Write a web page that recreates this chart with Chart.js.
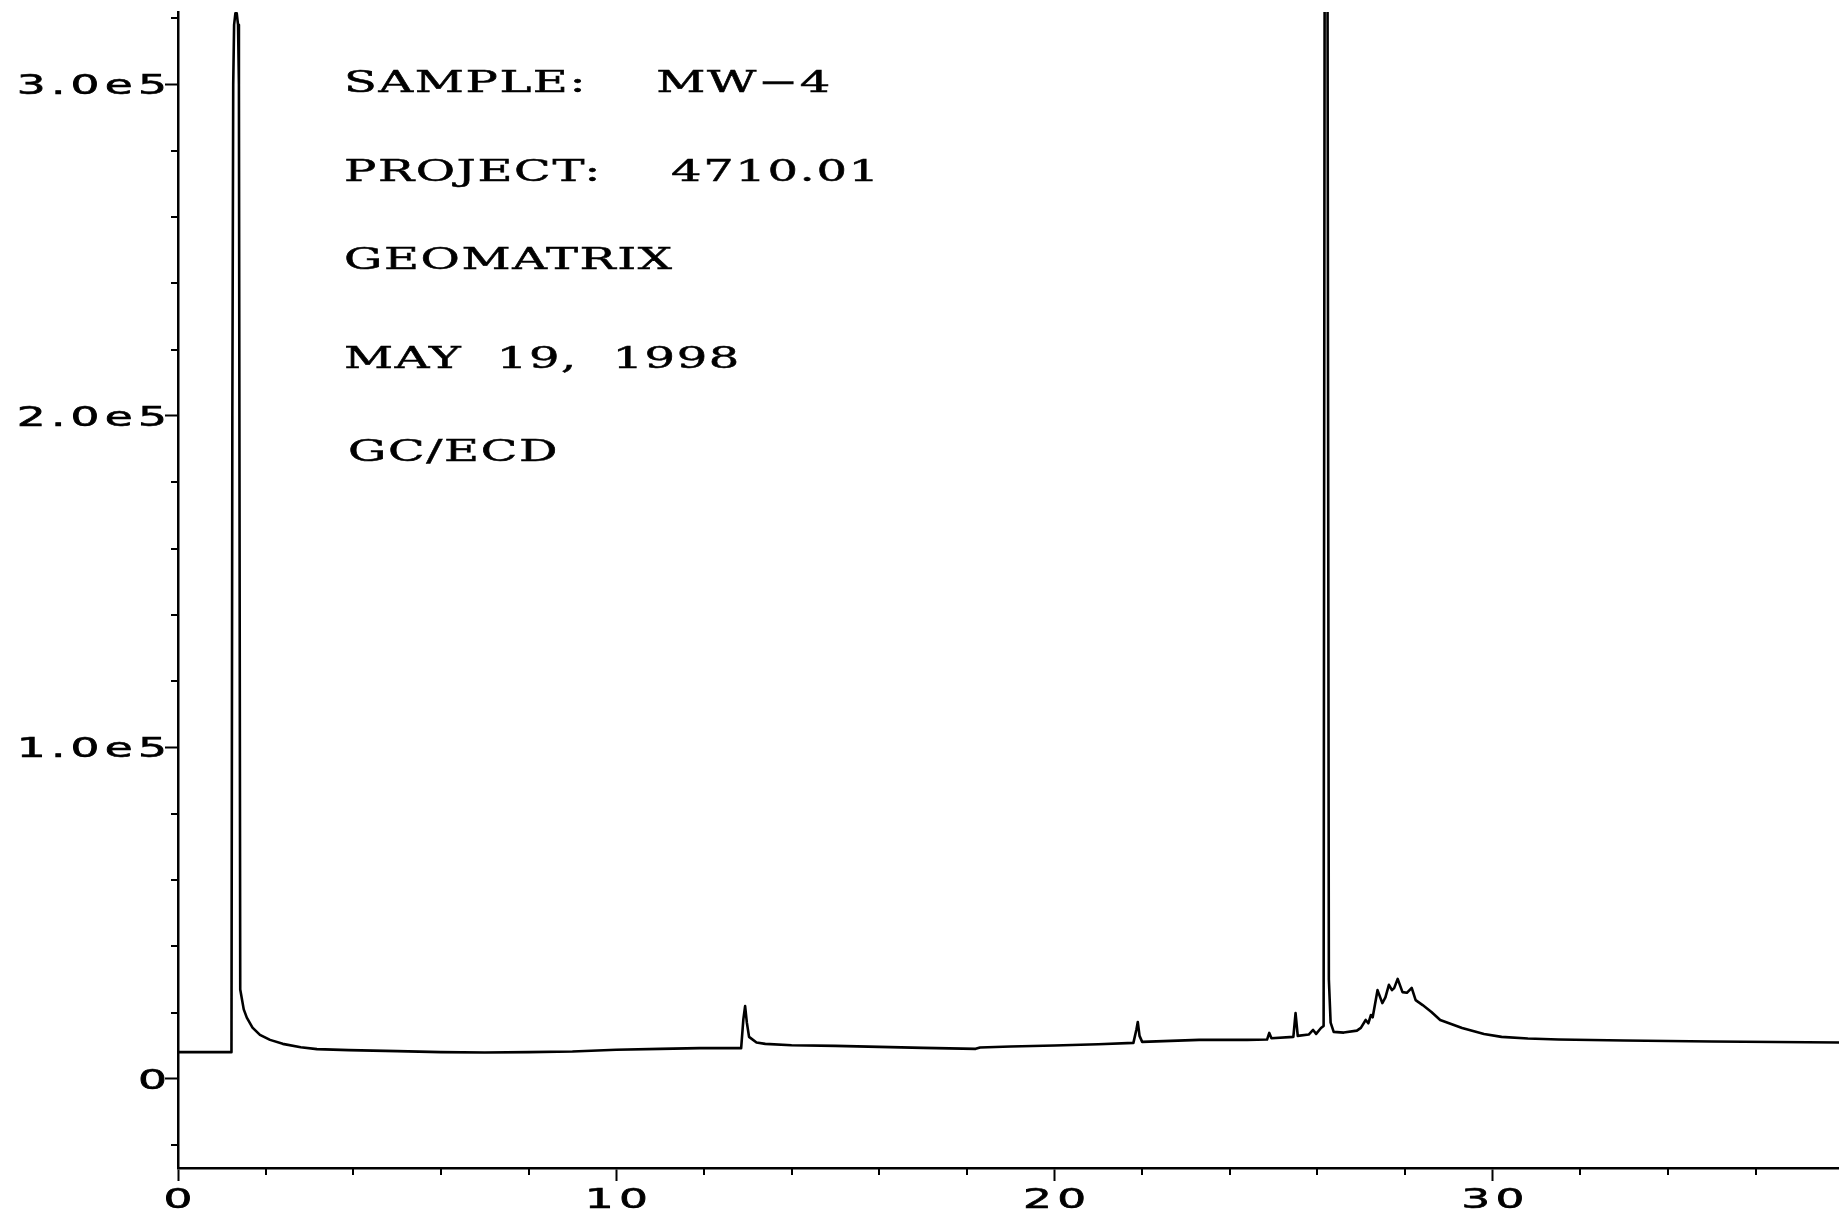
<!DOCTYPE html>
<html>
<head>
<meta charset="utf-8">
<title>GC/ECD chromatogram MW-4</title>
<script src="https://cdn.jsdelivr.net/npm/chart.js@4.4.1/dist/chart.umd.min.js"></script>
<style>
  html, body { margin: 0; padding: 0; background: #fff; }
  #chromatogram { display: block; }
</style>
</head>
<body>
<canvas id="chromatogram" width="1839" height="1214"></canvas>
<script>
// Trace: retention time (min) and detector response
const retentionTimes = [
  0.00, 1.22, 1.24, 1.26, 1.28, 1.31, 1.34, 1.37, 1.39, 1.42,
  1.50, 1.57, 1.70, 1.87, 2.10, 2.39, 2.80, 3.17, 3.90, 5.00,
  6.00, 7.00, 8.00, 9.00, 10.00, 11.00, 11.90, 12.85, 12.90, 12.94,
  12.98, 13.03, 13.20, 13.40, 14.00, 15.00, 16.00, 17.00, 18.20, 18.30,
  19.00, 20.00, 21.00, 21.80, 21.87, 21.90, 21.94, 22.00, 23.30, 24.40,
  24.85, 24.90, 24.95, 25.45, 25.50, 25.55, 25.80, 25.90, 25.97, 26.08,
  26.14, 26.17, 26.22, 26.26, 26.30, 26.37, 26.60, 26.90, 26.99, 27.10,
  27.16, 27.22, 27.26, 27.37, 27.48, 27.55, 27.63, 27.70, 27.75, 27.83,
  27.94, 28.04, 28.15, 28.24, 28.40, 28.60, 28.80, 29.30, 29.80, 30.20,
  30.80, 31.50, 33.00, 35.00, 37.90
];
const detectorResponse = [
  8100, 8100, 200000, 300000, 318000, 321500, 321500, 318000, 300000, 27000,
  21000, 18500, 15500, 13300, 11800, 10600, 9600, 9000, 8700, 8400,
  8100, 8000, 8100, 8300, 8800, 9100, 9300, 9300, 18000, 22000,
  17000, 12700, 11000, 10600, 10200, 10000, 9700, 9400, 9100, 9500,
  9800, 10100, 10500, 10900, 15000, 17200, 13000, 11200, 11800, 11800,
  11900, 13900, 12300, 12700, 19900, 13000, 13400, 14800, 13600, 15400,
  16000, 420000, 420000, 30000, 17000, 14200, 14000, 14600, 15400, 17800,
  16800, 19300, 18600, 26800, 22900, 24600, 28400, 26800, 27400, 30200,
  26200, 26000, 27500, 23800, 22300, 20200, 17800, 15400, 13600, 12700,
  12200, 11900, 11600, 11300, 11000
];

const xTickValues = [0, 2, 4, 6, 8, 10, 12, 14, 16, 18, 20, 22, 24, 26, 28, 30, 32, 34, 36];
const xLabelValues = [0, 10, 20, 30];
const xLabelTexts = ['0', '10', '20', '30'];

const yTickValues = [
  -20000, 0, 20000, 40000, 60000, 80000, 100000, 120000, 140000, 160000, 180000,
  200000, 220000, 240000, 260000, 280000, 300000, 320000
];
const yLabelValues = [0, 100000, 200000, 300000];
const yLabelTexts = ['0', '1.0e5', '2.0e5', '3.0e5'];

const headerLines = ['SAMPLE:  MW\u22124', 'PROJECT:  4710.01', 'GEOMATRIX', 'MAY 19, 1998', 'GC/ECD'];

// layout of the plotter page
const AXIS_LEFT = 178;
const AXIS_BOTTOM_SPACE = 46;
const MAJOR_TICK = 13;
const MINOR_TICK = 7;
const headerX = [344, 344, 344, 344, 348];
const headerBaseline = [92, 181, 269, 368, 461];

const tickFont = { font: '26px "DejaVu Sans"', stretch: 1.75, spacing: 3, wordSpacing: 0, weight: 0.6 };
const headerFont = { font: '30px "DejaVu Serif"', stretch: 1.6, spacing: 1, wordSpacing: 11, weight: 0.5 };

/**
 * Draws plotter-style text: wide glyphs via a horizontal stretch.
 */
function drawPlotterText(ctx, text, x, y, style, align) {
  ctx.save();
  ctx.font = style.font;
  ctx.fillStyle = '#000';
  ctx.strokeStyle = '#000';
  ctx.lineWidth = style.weight;
  ctx.textAlign = 'left';
  ctx.textBaseline = 'alphabetic';
  ctx.letterSpacing = style.spacing + 'px';
  ctx.wordSpacing = style.wordSpacing + 'px';
  const width = ctx.measureText(text).width - style.spacing;
  let left = x;
  if (align === 'right') left = x - width * style.stretch;
  if (align === 'center') left = x - (width * style.stretch) / 2;
  ctx.translate(left, y);
  ctx.scale(style.stretch, 1);
  ctx.fillText(text, 0, 0);
  ctx.strokeText(text, 0, 0);
  ctx.restore();
}

const plotterDecorations = {
  id: 'plotterDecorations',
  afterDraw(chart) {
    const { ctx, chartArea, scales } = chart;

    // minor tick marks (major ones come from the grid options)
    ctx.save();
    ctx.strokeStyle = '#000';
    ctx.lineWidth = 2;
    ctx.beginPath();
    xTickValues.forEach((v) => {
      if (xLabelValues.includes(v)) return;
      const px = Math.round(scales.x.getPixelForValue(v));
      ctx.moveTo(px, chartArea.bottom);
      ctx.lineTo(px, chartArea.bottom + MINOR_TICK);
    });
    yTickValues.forEach((v) => {
      if (yLabelValues.includes(v)) return;
      const py = Math.round(scales.y.getPixelForValue(v));
      ctx.moveTo(chartArea.left, py);
      ctx.lineTo(chartArea.left - MINOR_TICK, py);
    });
    ctx.stroke();
    ctx.restore();

    // tick labels
    xLabelValues.forEach((v, i) => {
      const px = scales.x.getPixelForValue(v);
      drawPlotterText(ctx, xLabelTexts[i], px, chartArea.bottom + 40, tickFont, 'center');
    });
    yLabelValues.forEach((v, i) => {
      const py = scales.y.getPixelForValue(v);
      drawPlotterText(ctx, yLabelTexts[i], chartArea.left - 11, py + 10, tickFont, 'right');
    });

    // sample header
    headerLines.forEach((line, i) => {
      drawPlotterText(ctx, line, headerX[i], headerBaseline[i], headerFont, 'left');
    });
  },
};

function initChromatogram() {
  const points = retentionTimes.map((t, i) => ({ x: t, y: detectorResponse[i] }));

  new Chart(document.getElementById('chromatogram'), {
    type: 'scatter',
    data: {
      datasets: [
        {
          label: 'MW-4',
          data: points,
          showLine: true,
          borderColor: '#000',
          borderWidth: 2.6,
          borderJoinStyle: 'round',
          borderCapStyle: 'round',
          pointRadius: 0,
          tension: 0,
          fill: false,
        },
      ],
    },
    options: {
      responsive: false,
      animation: false,
      devicePixelRatio: 1,
      layout: { padding: { top: 12, right: 0, bottom: 0, left: 0 } },
      plugins: { legend: { display: false }, tooltip: { enabled: false } },
      scales: {
        x: {
          type: 'linear',
          min: 0,
          max: 37.9,
          afterBuildTicks: (scale) => { scale.ticks = xTickValues.map((v) => ({ value: v })); },
          afterFit: (scale) => { scale.height = AXIS_BOTTOM_SPACE; },
          ticks: { display: false },
          grid: {
            drawOnChartArea: false,
            tickLength: MAJOR_TICK,
            tickWidth: 2,
            tickColor: (c) => (xLabelValues.includes(c.tick.value) ? '#000' : 'rgba(0,0,0,0)'),
          },
          border: { color: '#000', width: 2.5 },
        },
        y: {
          type: 'linear',
          min: -26850,
          max: 321870,
          afterBuildTicks: (scale) => { scale.ticks = yTickValues.map((v) => ({ value: v })); },
          afterFit: (scale) => { scale.width = AXIS_LEFT; },
          ticks: { display: false },
          grid: {
            drawOnChartArea: false,
            tickLength: MAJOR_TICK,
            tickWidth: 2,
            tickColor: (c) => (yLabelValues.includes(c.tick.value) ? '#000' : 'rgba(0,0,0,0)'),
          },
          border: { color: '#000', width: 2.5 },
        },
      },
    },
    plugins: [plotterDecorations],
  });
}

initChromatogram();
</script>
</body>
</html>
